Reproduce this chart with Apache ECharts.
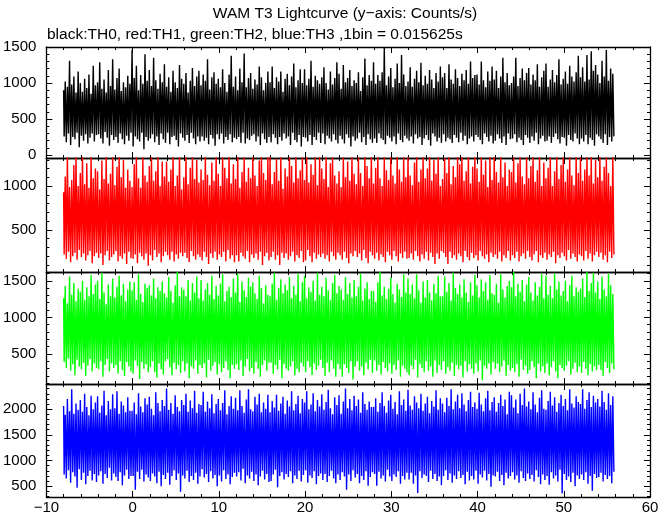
<!DOCTYPE html>
<html><head><meta charset="utf-8">
<script src="https://cdn.jsdelivr.net/npm/echarts@6/dist/echarts.min.js"></script>
<style>html,body{margin:0;padding:0;background:#fff}#c{width:672px;height:515px}</style>
</head><body><div id="c"></div>
<script>
// time bins (s) and counts/s read (estimated) from the picture
const t0 = -8, dt = 0.125;
const th0 = [
900,260,1020,180,950,300,1310,140,980,250,1090,220,870,310,1160,110,
1000,270,880,200,1060,290,930,160,1120,240,850,300,1240,190,970,280,
1010,290,1290,230,920,160,1050,320,870,240,1180,130,960,280,1330,210,
910,250,1070,170,1200,300,890,220,1010,150,940,270,1100,200,990,310,
1460,120,1070,260,1240,220,900,190,1110,310,990,80,1400,250,1030,200,
1180,230,960,290,1350,180,1040,260,920,140,1130,300,1010,220,1260,170,
950,310,1080,150,880,250,1170,270,1010,210,930,120,1250,300,1060,240,
990,200,1140,280,870,170,1030,310,1210,230,960,150,1090,260,1170,190,
970,260,1120,200,1030,240,1330,150,910,280,1080,230,1150,130,990,290,
1060,220,940,300,1190,160,1000,250,880,210,1120,290,1380,180,950,240,
1090,220,900,250,1200,170,1010,310,1410,160,940,230,1070,210,1140,270,
920,290,1050,190,980,260,1230,140,1080,300,900,220,1000,170,1160,250,
1010,180,1230,290,930,240,1080,150,1020,250,1160,200,880,300,1060,230,
1130,260,970,140,1090,310,1270,210,940,180,1040,280,1190,120,1000,250,
1190,240,970,190,1060,280,1310,140,950,250,1100,210,1040,310,990,170,
1080,300,1220,150,1000,270,910,230,1160,190,980,290,1070,210,1290,160,
1130,270,920,220,1250,160,1010,290,1070,240,1180,120,960,260,1040,200,
1000,230,1150,310,890,180,1080,250,1340,140,970,290,1110,220,1030,170,
1290,230,990,170,1110,300,1030,230,1150,210,1490,150,970,270,1090,240,
1210,190,940,260,1060,150,1270,300,1000,210,1390,180,1120,270,960,230,
1020,200,1220,260,950,160,1060,290,1170,230,1010,250,1280,140,970,230,
1100,280,990,210,1180,130,1050,300,930,260,1140,190,1020,240,1230,170,
1080,290,1140,190,930,240,1260,220,1050,170,990,280,1190,240,1070,180,
960,310,1130,200,1040,270,1180,150,990,230,1300,260,1070,190,1110,280,
1120,250,980,210,1300,150,1040,300,940,250,1160,190,1030,270,1230,160,
1050,200,1170,290,930,230,1090,170,1350,260,1010,140,1140,300,970,220,
1000,230,1090,290,1350,180,960,240,1070,210,1200,140,1040,280,1140,240,
1210,170,980,260,1120,200,1040,310,1260,150,950,230,1080,270,1170,190,
1270,200,950,260,1050,170,1180,250,1010,300,1110,220,1330,160,980,250,
1060,240,1160,130,990,280,1240,210,1090,190,1020,300,1150,230,1380,150,
1080,230,1220,190,1020,280,1390,150,1050,240,1440,210,1170,130,1250,290,
1120,260,1000,220,1310,170,1090,290,1460,140,1030,250,1200,190,1130,260
];
const th1 = [
930,220,1110,170,1330,250,990,130,1070,200,1240,240,1340,160,1000,270,
1150,190,1340,230,1020,150,1260,210,980,260,1340,120,1090,200,1200,240,
1170,180,960,230,1290,100,1080,210,1340,260,1030,150,1140,190,1340,220,
1010,260,1220,140,1340,200,1100,170,1300,230,980,110,1190,250,1060,180,
990,170,1250,220,1340,120,1090,240,980,200,1340,160,1120,230,1050,90,
1230,210,1340,150,1060,270,1170,190,1340,230,1000,130,1280,200,1110,250,
1280,210,1050,160,1190,250,1340,140,1000,220,1120,170,1340,240,960,200,
1100,240,1340,180,1020,130,1210,260,1340,200,1080,160,1300,220,1040,190,
1190,150,1070,250,1340,190,1130,110,1010,230,1270,180,1060,250,1340,160,
1140,220,1000,190,1340,250,1210,140,1090,270,1340,170,1030,210,1250,130,
1080,210,1340,140,980,240,1160,200,1340,170,1050,260,1210,130,1090,220,
1340,180,1120,230,1000,160,1290,250,1340,100,1150,200,1070,240,1340,150,
1340,190,1020,250,1160,160,1310,210,1060,100,1340,240,970,180,1200,230,
1110,160,1340,200,1230,250,1040,140,1340,210,1090,180,1180,260,1340,130,
1070,150,1340,270,1040,200,1250,130,1130,240,1340,170,1010,220,1340,190,
1200,230,1080,170,1340,210,990,140,1260,250,1340,200,1120,160,1030,240,
1170,210,990,160,1340,250,1100,180,1280,120,1060,230,1340,200,1140,260,
1020,190,1340,230,1150,150,1000,270,1340,180,1230,120,1090,250,1340,210,
1030,170,1210,240,1340,150,1090,220,1000,190,1340,130,1180,250,1070,210,
1340,160,1120,260,1030,200,1340,140,1190,230,1050,180,1330,250,1100,170,
1340,180,1120,230,1010,160,1270,260,1340,200,1050,140,1190,220,1340,170,
1090,250,1200,150,1340,240,1060,190,1300,110,1140,230,1340,170,1000,260,
1080,240,1320,190,1150,110,1340,250,1020,180,1230,210,1100,160,1340,230,
1250,200,1340,130,1060,260,1170,190,1340,150,1030,240,1220,180,1340,210,
1200,150,1050,260,1340,200,1130,170,1290,220,990,130,1340,240,1070,190,
1340,220,1160,170,1040,250,1340,140,1100,210,1270,180,1000,260,1190,150,
1160,210,1340,180,1040,250,1260,140,1340,200,1110,230,1020,170,1340,260,
1090,190,1230,150,1340,220,1050,260,1180,130,1340,210,1000,180,1270,240,
1090,160,1210,220,1340,190,1000,250,1170,120,1340,210,1080,180,1240,240,
1340,200,1050,150,1190,270,1340,170,1120,230,1010,190,1340,140,1150,220,
1340,200,1060,150,1190,260,1340,170,1120,230,1340,140,1030,210,1300,250,
1100,190,1340,240,1060,160,1220,210,1340,130,1150,250,1000,180,1340,220
];
const th2 = [
1260,390,1430,310,1190,440,1560,270,1310,360,1470,210,1220,420,1390,330,
1350,290,1500,380,1240,200,1410,340,1290,430,1580,260,1320,370,1450,310,
1500,290,1250,400,1610,190,1340,350,1180,430,1450,260,1290,370,1530,310,
1270,350,1420,230,1570,400,1300,280,1460,200,1220,390,1380,330,1490,260,
1370,230,1480,410,1240,340,1590,160,1320,390,1210,300,1460,360,1400,250,
1440,320,1300,400,1530,250,1260,180,1410,370,1360,290,1490,220,1330,400,
1270,430,1550,320,1360,210,1200,380,1440,290,1620,350,1290,240,1410,400,
1380,260,1290,370,1510,170,1230,330,1470,300,1340,410,1560,230,1260,350,
1510,310,1230,370,1380,180,1470,420,1310,270,1570,340,1250,390,1430,220,
1300,360,1460,250,1590,310,1220,400,1360,280,1420,170,1280,350,1530,300,
1340,360,1600,280,1210,410,1490,200,1370,330,1280,430,1540,260,1420,310,
1480,230,1330,390,1250,300,1570,190,1400,350,1190,410,1440,270,1310,380,
1290,380,1460,230,1610,350,1240,290,1400,420,1520,170,1330,360,1450,300,
1370,270,1550,330,1260,400,1430,210,1310,300,1600,250,1220,380,1480,330,
1570,250,1260,400,1410,320,1350,210,1500,370,1230,280,1610,340,1310,420,
1420,310,1290,200,1540,380,1370,250,1240,410,1470,300,1580,190,1330,360,
1430,290,1380,190,1240,360,1550,310,1320,240,1470,400,1270,150,1510,330,
1290,400,1420,270,1600,330,1230,210,1390,380,1480,290,1250,420,1360,240,
1360,410,1210,270,1480,350,1620,220,1300,390,1420,310,1250,260,1390,370,
1540,230,1320,350,1200,280,1460,410,1380,190,1280,340,1590,300,1340,250,
1530,210,1320,340,1450,290,1260,420,1590,180,1370,360,1200,310,1490,250,
1270,400,1510,270,1340,330,1230,190,1460,410,1330,240,1570,350,1290,280,
1290,400,1560,230,1350,320,1470,270,1230,380,1610,200,1400,350,1320,290,
1450,340,1270,180,1520,400,1340,260,1210,360,1480,300,1300,230,1580,370,
1440,260,1270,410,1520,140,1360,340,1480,300,1240,370,1580,220,1330,390,
1310,300,1460,370,1200,250,1590,330,1380,410,1270,200,1430,350,1500,270,
1410,310,1620,250,1290,360,1460,190,1350,420,1510,280,1220,340,1450,230,
1550,280,1340,400,1230,320,1480,170,1300,370,1420,260,1600,330,1260,240,
1570,370,1310,210,1430,320,1260,400,1600,260,1380,170,1490,350,1300,310,
1360,270,1500,340,1220,400,1440,220,1570,300,1290,380,1410,250,1350,330,
1390,240,1530,390,1280,300,1620,210,1360,360,1470,260,1610,330,1340,280,
1490,350,1250,280,1560,200,1380,390,1290,310,1600,240,1440,370,1320,290
];
const th3 = [
2060,730,1890,650,2200,810,1960,570,2390,770,1910,690,2110,470,1990,830,
2180,620,1950,760,2300,540,2040,700,1880,800,2260,610,2000,740,2130,580,
2250,710,1930,790,2070,550,2360,740,1880,660,2160,860,2000,610,2290,750,
2020,680,2350,600,1910,770,2150,520,2070,710,1940,820,2230,640,1970,700,
1970,700,2130,430,1900,780,2310,640,2050,820,1940,590,2210,730,2090,670,
2240,600,2010,750,1880,690,2330,560,2120,780,1960,500,2180,720,2060,640,
2400,760,1990,530,2120,700,1910,810,2270,620,2040,750,1960,390,2180,710,
2080,650,2300,800,1950,580,2170,700,2020,620,2360,760,1930,550,2100,690,
2080,830,2340,670,1950,740,2150,580,2020,790,2290,650,1920,720,2100,500,
2200,710,1980,590,2120,810,2370,640,1900,730,2060,540,2250,680,2010,760,
2220,690,1980,770,2370,610,2060,840,1930,560,2190,710,2390,650,2000,780,
1960,600,2240,730,2090,520,2300,690,1940,800,2130,630,2010,740,2280,580,
1940,600,2160,730,2030,820,2280,480,1970,700,2110,770,2240,630,1910,740,
2170,680,2050,790,2350,560,1980,710,2100,640,2260,800,1920,590,2200,720,
2130,810,2350,570,2000,710,2090,660,2310,790,1960,540,2180,700,2050,750,
2290,620,1990,740,2140,580,2380,700,2020,800,1900,650,2230,560,2080,730,
2270,620,1910,770,2150,690,2400,430,2020,730,2200,600,1980,810,2260,670,
2060,740,2190,560,1930,700,2330,620,2100,790,1990,510,2150,680,2040,770,
2040,740,2210,510,1950,780,2120,650,2330,710,2060,590,1930,820,2170,690,
2280,600,2010,730,2140,680,1900,790,2350,550,2080,700,2190,630,1970,760,
2380,630,2070,760,1990,550,2250,710,2130,370,2020,790,2300,660,1970,730,
2110,700,2240,580,1920,800,2160,640,2050,740,2370,600,1990,690,2210,520,
2110,700,1940,810,2220,620,2060,750,2390,570,2000,710,2150,640,2280,790,
2020,660,2310,720,2090,540,1960,780,2180,610,2340,700,2040,630,2130,800,
2010,550,2320,730,2090,670,1960,800,2210,610,2360,740,1980,490,2140,710,
2230,690,1950,780,2120,600,2280,720,2060,520,2190,760,1900,650,2340,700,
2270,770,2030,630,2190,710,1920,570,2300,790,2080,660,2400,600,2050,750,
2150,640,2000,720,2330,590,2090,810,1940,680,2220,540,2370,730,2010,620,
1990,700,2160,530,2340,770,2070,650,2230,710,1950,590,2120,820,2280,360,
2060,740,2200,620,1980,690,2390,580,2110,760,2030,500,2250,710,2140,640,
2100,730,2390,620,2010,770,2180,550,2330,700,2040,410,2260,740,2130,660,
2200,680,2050,760,2360,590,2140,720,1990,640,2310,700,2080,560,2250,780
];
const yTicks0 = [0, 500, 1000, 1500];
const yTicks1 = [500, 1000];
const yTicks2 = [500, 1000, 1500];
const yTicks3 = [500, 1000, 1500, 2000];
const xTicks = [-10, 0, 10, 20, 30, 40, 50, 60];
const titleText = 'WAM T3 Lightcurve (y\u2212axis: Counts/s)';
const subText = 'black:TH0, red:TH1, green:TH2, blue:TH3 ,1bin = 0.015625s';

const FONT = '"Liberation Sans", Arial, sans-serif';
const panels = [
  {data: th0, color: '#000000', min: -40, max: 1500, ticks: yTicks0, top: 47, height: 111},
  {data: th1, color: '#ff0000', min: 20, max: 1320, ticks: yTicks1, top: 158, height: 114},
  {data: th2, color: '#00ff00', min: 90, max: 1620, ticks: yTicks2, top: 272, height: 112},
  {data: th3, color: '#0000ff', min: 290, max: 2490, ticks: yTicks3, top: 384, height: 113}
];
const grid = [], xAxis = [], yAxis = [], series = [];
const frameLine = {show: true, onZero: false, lineStyle: {color: '#000', width: 1.3}};
panels.forEach((p, i) => {
  grid.push({left: 45, width: 605, top: p.top, height: p.height, containLabel: false});
  const xi = xAxis.length;
  ['bottom', 'top'].forEach(pos => {
    xAxis.push({
      type: 'value', gridIndex: i, position: pos, min: xTicks[0], max: xTicks[xTicks.length - 1],
      interval: 10, axisLine: frameLine,
      axisTick: {show: true, inside: true, length: 6, lineStyle: {color: '#000', width: 1}},
      minorTick: {show: true, splitNumber: 5, length: 3, lineStyle: {color: '#000', width: 1}},
      splitLine: {show: false},
      axisLabel: {show: (i === 3 && pos === 'bottom'), margin: 3, color: '#000', fontSize: 15, fontFamily: FONT,
        formatter: v => String(v).replace('-', '\u2212')}
    });
  });
  const minors = [];
  for (let v = Math.ceil(p.min / 100) * 100; v <= p.max; v += 100) if (p.ticks.indexOf(v) < 0) minors.push(v);
  const yi = yAxis.length;
  [['left', true, p.ticks, 6], ['right', false, p.ticks, 6], ['left', false, minors, 3], ['right', false, minors, 3]].forEach(([pos, lab, vals, len], k) => {
    yAxis.push({
      type: 'value', gridIndex: i, position: pos, offset: 0, min: p.min, max: p.max,
      axisLine: k < 2 ? frameLine : {show: false, onZero: false},
      axisTick: {show: true, inside: true, length: len, customValues: vals, lineStyle: {color: '#000', width: 1}},
      splitLine: {show: false},
      axisLabel: {show: lab, customValues: vals, margin: 10, color: '#000', fontSize: 15, fontFamily: FONT,
        formatter: v => String(v)}
    });
  });
  series.push({
    type: 'line', xAxisIndex: xi, yAxisIndex: yi, showSymbol: false, symbol: 'none', step: 'middle',
    data: p.data.map((v, j) => [t0 + j * dt, v]),
    lineStyle: {color: p.color, width: 1.4, join: 'miter', cap: 'butt'}, itemStyle: {color: p.color},
    clip: true, animation: false, silent: true, z: 1, sampling: null
  });
});
const chart = echarts.init(document.getElementById('c'), null, {renderer: 'canvas'});
chart.setOption({
  animation: false, backgroundColor: '#ffffff',
  grid, xAxis, yAxis, series,
  graphic: [
    {type: 'text', x: 345, y: 14, style: {text: titleText, font: '15.5px ' + FONT, fill: '#000', textAlign: 'center', textVerticalAlign: 'middle'}},
    {type: 'text', x: 47, y: 35, style: {text: subText, font: '15.5px ' + FONT, fill: '#000', textAlign: 'left', textVerticalAlign: 'middle'}}
  ]
});
</script></body></html>
